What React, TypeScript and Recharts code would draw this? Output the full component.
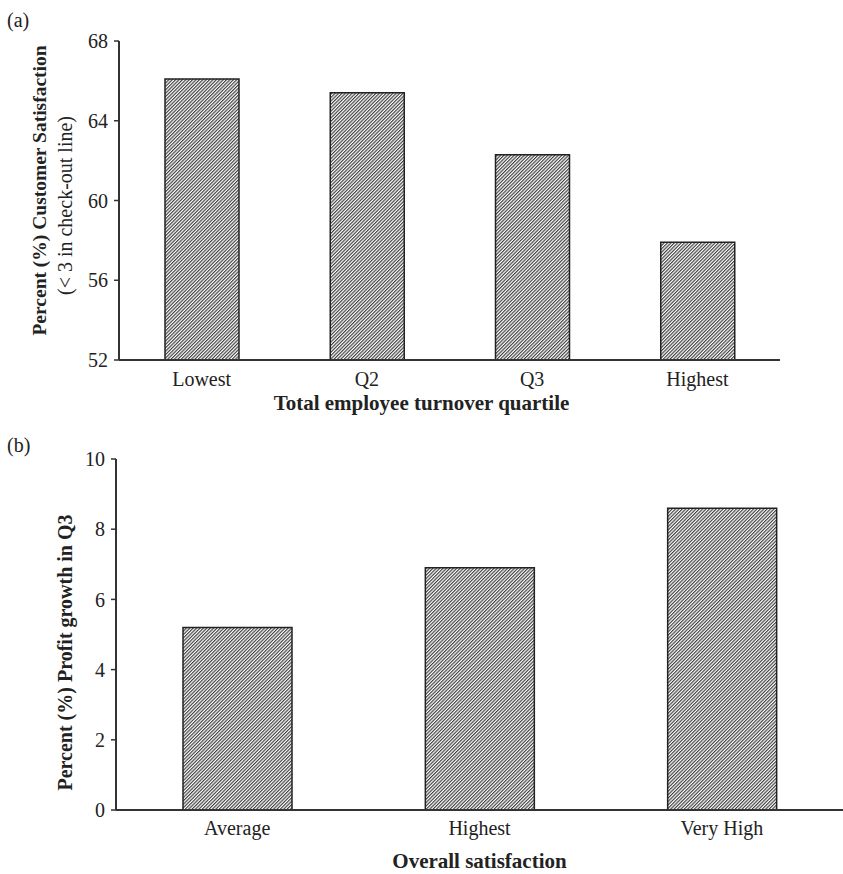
import { Bar, BarChart, Label, XAxis, YAxis } from "recharts";

const turnoverQuartiles = ["Lowest", "Q2", "Q3", "Highest"];
const satisfactionPct = [66.1, 65.4, 62.3, 57.9];
const satisfactionTicks = [52, 56, 60, 64, 68];

const satisfactionLevels = ["Average", "Highest", "Very High"];
const profitGrowthPct = [5.2, 6.9, 8.6];
const profitTicks = [0, 2, 4, 6, 8, 10];

const SERIF = "'Liberation Serif', 'Times New Roman', serif";
const INK = "#222";

const tickStyle = { fontSize: 20, fill: INK, fontFamily: SERIF };

const panelAData = turnoverQuartiles.map((name, i) => ({
  name,
  value: satisfactionPct[i],
}));

const panelBData = satisfactionLevels.map((name, i) => ({
  name,
  value: profitGrowthPct[i],
}));

function HatchDefs() {
  return (
    <svg width={0} height={0} style={{ position: "absolute" }}>
      <defs>
        <pattern
          id="hatch"
          patternUnits="userSpaceOnUse"
          width={2.4}
          height={2.4}
          patternTransform="rotate(45)"
        >
          <rect width={2.4} height={2.4} fill="#fff" />
          <line x1={0.6} y1={0} x2={0.6} y2={2.4} stroke="#333" strokeWidth={1.1} />
        </pattern>
      </defs>
    </svg>
  );
}

function PanelTag({ text, top }: { text: string; top: number }) {
  return (
    <div
      style={{
        position: "absolute",
        left: 7,
        top,
        fontFamily: SERIF,
        fontSize: 20,
        color: INK,
        lineHeight: 1,
      }}
    >
      {text}
    </div>
  );
}

export default function App() {
  return (
    <div
      style={{
        position: "absolute",
        left: 0,
        top: 0,
        width: 843,
        height: 874,
        background: "#fff",
      }}
    >
      <HatchDefs />
      <PanelTag text="(a)" top={10} />
      <PanelTag text="(b)" top={435} />

      <div style={{ position: "absolute", left: 0, top: 0 }}>
        <BarChart
          width={843}
          height={420}
          data={panelAData}
          margin={{ top: 41, right: 63, left: 0, bottom: 0 }}
        >
          <XAxis
            dataKey="name"
            height={60}
            tickLine={false}
            tickSize={0}
            tickMargin={12}
            axisLine={{ stroke: "#333", strokeWidth: 2 }}
            tick={tickStyle}
            interval={0}
          >
            <Label
              value="Total employee turnover quartile"
              position="insideBottom"
              offset={10}
              dx={-28}
              style={{ fontFamily: SERIF, fontSize: 21, fontWeight: 700, fill: INK }}
            />
          </XAxis>
          <YAxis
            width={119}
            domain={[52, 68]}
            ticks={satisfactionTicks}
            allowDataOverflow
            tickSize={5}
            tickMargin={6}
            tickLine={{ stroke: "#333", strokeWidth: 1.5 }}
            axisLine={{ stroke: "#333", strokeWidth: 2 }}
            tick={tickStyle}
          >
            <Label
              value="Percent (%) Customer Satisfaction"
              angle={-90}
              position="insideLeft"
              offset={39}
              dy={-10}
              style={{
                textAnchor: "middle",
                fontFamily: SERIF,
                fontSize: 19.5,
                fontWeight: 700,
                fill: INK,
              }}
            />
            <Label
              value="(< 3 in check-out line)"
              angle={-90}
              position="insideLeft"
              offset={65}
              dy={5}
              style={{ textAnchor: "middle", fontFamily: SERIF, fontSize: 20, fill: INK }}
            />
          </YAxis>
          <Bar
            dataKey="value"
            barSize={74}
            fill="url(#hatch)"
            stroke={INK}
            strokeWidth={1.5}
            isAnimationActive={false}
          />
        </BarChart>
      </div>

      <div style={{ position: "absolute", left: 0, top: 420 }}>
        <BarChart
          width={843}
          height={454}
          data={panelBData}
          margin={{ top: 39, right: 0, left: 0, bottom: 0 }}
        >
          <XAxis
            dataKey="name"
            height={64}
            tickLine={false}
            tickSize={0}
            tickMargin={11}
            axisLine={{ stroke: "#333", strokeWidth: 2 }}
            tick={tickStyle}
            interval={0}
          >
            <Label
              value="Overall satisfaction"
              position="insideBottom"
              offset={6}
              style={{ fontFamily: SERIF, fontSize: 21, fontWeight: 700, fill: INK }}
            />
          </XAxis>
          <YAxis
            width={116}
            domain={[0, 10]}
            ticks={profitTicks}
            tickSize={5}
            tickMargin={6}
            tickLine={{ stroke: "#333", strokeWidth: 1.5 }}
            axisLine={{ stroke: "#333", strokeWidth: 2 }}
            tick={tickStyle}
          >
            <Label
              value="Percent (%) Profit growth in Q3"
              angle={-90}
              position="insideLeft"
              offset={65}
              dy={18}
              style={{
                textAnchor: "middle",
                fontFamily: SERIF,
                fontSize: 20,
                fontWeight: 700,
                fill: INK,
              }}
            />
          </YAxis>
          <Bar
            dataKey="value"
            barSize={109}
            fill="url(#hatch)"
            stroke={INK}
            strokeWidth={1.5}
            isAnimationActive={false}
          />
        </BarChart>
      </div>
    </div>
  );
}
